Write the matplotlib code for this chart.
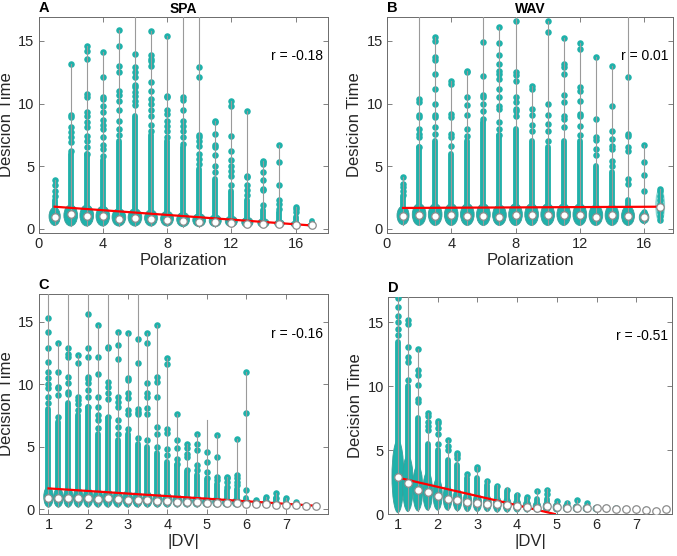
import matplotlib.pyplot as plt
from matplotlib.patches import Ellipse

plt.rcParams['font.family'] = ['Liberation Sans', 'DejaVu Sans']

TEAL = '#1fb1aa'
GRAY = '#9a9a9a'
TXT = '#262626'

# ---- panel A : SPA, polarization ----
A_pos = [1, 2, 3, 4, 5, 6, 7, 8, 9, 10, 11, 12, 13, 14, 15, 16, 17]
A_med = [0.9, 1.15, 1.0, 1.0, 0.8, 0.85, 0.75, 0.7, 0.6, 0.55, 0.5, 0.45, 0.4, 0.35, 0.35, 0.3, 0.25]
A_lo = [0.25, 0.2, 0.2, 0.2, 0.2, 0.2, 0.2, 0.2, 0.15, 0.15, 0.15, 0.15, 0.1, 0.1, 0.1, 0.1, 0.1]
A_hi = [1.7, 1.9, 1.9, 1.8, 1.6, 1.6, 1.5, 1.4, 1.3, 1.2, 1.1, 1.0, 0.9, 0.8, 0.7, 0.6, 0.45]
A_w = [0.7, 0.85, 0.85, 0.85, 0.85, 0.85, 0.8, 0.8, 0.8, 0.8, 0.75, 0.75, 0.7, 0.7, 0.6, 0.55, 0.5]
A_col = [2.3, 6.0, 6.0, 5.5, 7.0, 9.0, 7.5, 7.0, 6.5, 4.8, 4.0, 3.0, 2.3, 1.5, 1.3, 0.9, 0.6]
A_top = [3.9, 13.2, 14.6, 14.1, 15.9, 20, 15.8, 15.4, 20, 20, 8.6, 10.2, 9.4, 5.4, 6.7, 1.7, 0.6]
A_dots = [
    [2.6, 3.0, 3.5, 3.9],
    [6.2, 6.9, 7.3, 7.7, 8.1, 8.9, 9.1, 13.2],
    [6.0, 6.5, 7.0, 7.4, 8.1, 8.5, 9.0, 9.3, 10.5, 10.8, 13.6, 14.2, 14.6],
    [5.8, 6.4, 6.7, 7.3, 8.0, 8.3, 8.7, 9.3, 9.8, 10.4, 10.5, 12.1, 14.1],
    [7.5, 8.0, 8.6, 9.5, 10.2, 10.7, 11.0, 12.5, 13.0, 14.6, 15.9],
    [9.9, 10.2, 10.6, 10.9, 11.3, 11.5, 12.1, 12.5, 12.9, 14.0],
    [7.8, 8.3, 9.0, 9.5, 10.0, 10.4, 11.0, 11.7, 13.0, 13.4, 13.6, 13.9, 15.8],
    [7.3, 7.8, 8.2, 8.6, 9.2, 9.5, 10.5, 10.6, 15.4],
    [6.8, 7.3, 7.8, 8.2, 8.6, 9.5, 10.3, 10.5],
    [5.2, 5.6, 6.0, 6.6, 7.0, 7.3, 7.5, 12.1, 12.9],
    [4.5, 5.0, 5.9, 6.5, 6.7, 7.6, 8.5, 8.6],
    [3.5, 4.2, 4.6, 5.0, 5.5, 6.2, 7.4, 9.8, 10.2],
    [2.7, 3.1, 3.5, 4.1, 4.2, 9.4],
    [1.9, 3.1, 3.2, 3.9, 4.5, 5.2, 5.3, 5.4],
    [1.6, 2.0, 2.3, 3.5, 5.3, 6.7],
    [1.3, 1.6, 1.7],
    [],
]
A_fit = ([1, 17], [1.75, 0.25])

# ---- panel B : WAV, polarization ----
B_pos = [1, 2, 3, 4, 5, 6, 7, 8, 9, 10, 11, 12, 13, 14, 15, 16, 17]
B_med = [1.0, 1.1, 1.0, 1.1, 1.0, 1.0, 0.95, 1.05, 1.05, 1.05, 1.1, 1.1, 0.95, 1.05, 1.0, 0.95, 1.75]
B_lo = [0.3, 0.25, 0.25, 0.25, 0.25, 0.25, 0.25, 0.25, 0.25, 0.25, 0.25, 0.25, 0.25, 0.25, 0.25, 0.4, 0.5]
B_hi = [1.8, 2.0, 2.0, 2.0, 2.0, 2.0, 1.9, 2.0, 2.0, 2.0, 2.0, 2.0, 1.9, 1.9, 1.8, 1.4, 3.2]
B_w = [0.75, 0.85, 0.85, 0.85, 0.85, 0.85, 0.85, 0.85, 0.85, 0.85, 0.85, 0.85, 0.85, 0.85, 0.8, 0.6, 0.55]
B_col = [2.5, 6.5, 7.0, 6.0, 7.0, 8.5, 7.5, 8.0, 7.0, 6.5, 7.0, 7.0, 5.0, 4.5, 2.3, 1.3, 0]
B_top = [4.15, 20, 15.3, 11.8, 12.6, 20, 16.1, 20, 11.4, 16.6, 15.2, 14.8, 13.7, 13.0, 20, 6.7, 3.2]
B_dots = [
    [2.7, 3.0, 3.3, 3.6, 4.15],
    [6.5, 7.3, 7.6, 8.0, 8.9, 9.1, 10.1, 10.4],
    [7.6, 8.1, 8.9, 9.1, 10.0, 11.2, 12.4, 13.5, 13.7, 15.0, 15.3],
    [6.6, 7.3, 7.6, 8.9, 9.2, 11.6, 11.8],
    [7.4, 8.0, 9.1, 9.9, 10.5, 12.5, 12.6],
    [8.8, 9.4, 10.0, 10.5, 10.7, 12.2, 14.9],
    [7.5, 8.0, 8.5, 9.6, 9.8, 10.5, 11.2, 12.0, 12.4, 12.6, 13.2, 13.9, 14.8, 16.1],
    [9.0, 9.4, 9.6, 10.1, 10.5, 11.8, 12.3, 12.5, 16.6],
    [7.8, 8.3, 9.1, 9.6, 11.2, 11.4],
    [7.0, 7.8, 8.4, 9.1, 10.0, 15.7, 16.6],
    [8.1, 8.8, 9.0, 10.1, 10.7, 12.4, 12.9, 13.2, 15.2],
    [7.5, 8.2, 9.0, 9.2, 10.2, 11.0, 11.3, 14.4, 14.8],
    [5.9, 6.4, 7.1, 7.3, 8.8, 13.7],
    [5.0, 5.4, 6.4, 6.6, 7.2, 7.8, 9.8, 13.0],
    [3.6, 4.0, 6.2, 6.5, 7.4, 7.6, 12.1],
    [1.3, 3.0, 4.3, 5.3, 6.7],
    [0.7, 1.0, 1.3, 1.6, 2.0, 2.3, 2.6, 3.0, 3.2],
]
B_light = [17]
B_fit = ([1, 17], [1.65, 1.75])

# ---- panel C : |DV| (SPA) ----
C_pos = [1.0, 1.25, 1.5, 1.75, 2.0, 2.25, 2.5, 2.75, 3.0, 3.25, 3.5, 3.75, 4.0, 4.25,
         4.5, 4.75, 5.0, 5.25, 5.5, 5.75, 6.0, 6.25, 6.5, 6.75, 7.0, 7.25, 7.5, 7.75]
C_med = [0.85, 0.9, 0.9, 0.9, 0.9, 0.8, 0.85, 0.8, 0.75, 0.75, 0.7, 0.65, 0.65, 0.6,
         0.55, 0.55, 0.5, 0.5, 0.45, 0.45, 0.4, 0.4, 0.4, 0.35, 0.3, 0.3, 0.28, 0.25]
C_lo = [0.15] * 28
C_hi = [1.8, 1.7, 1.7, 1.7, 1.7, 1.6, 1.6, 1.5, 1.5, 1.4, 1.4, 1.3, 1.3, 1.2,
        1.1, 1.1, 1.0, 1.0, 0.9, 0.9, 0.8, 0.75, 0.75, 0.7, 0.6, 0.55, 0.5, 0.45]
C_w = [0.24, 0.24, 0.24, 0.24, 0.24, 0.24, 0.24, 0.24, 0.24, 0.24, 0.23, 0.23, 0.23, 0.22,
       0.22, 0.22, 0.22, 0.21, 0.21, 0.21, 0.2, 0.2, 0.2, 0.18, 0.12, 0.12, 0.1, 0.0]
C_col = [8.0, 7.0, 8.5, 7.5, 8.2, 6.0, 7.3, 5.5, 6.0, 5.2, 5.0, 4.5, 3.8, 3.5,
         3.0, 2.7, 2.3, 2.0, 1.5, 1.6, 0.9, 0.7, 0.8, 0.9, 0.7, 0.5, 0.4, 0.3]
C_top = [20, 13.3, 20, 12.3, 20, 14.7, 20, 14.2, 14.1, 20, 14.1, 14.7, 12.1, 7.6,
         5.2, 6.0, 7.1, 5.9, 2.6, 5.6, 11.0, 0.7, 1.0, 1.3, 0.9, 0.6, 0.5, 0.3]
C_dots = [
    [8.5, 9.0, 9.7, 10.0, 10.5, 11.0, 11.8, 12.9, 14.2, 15.3],
    [7.4, 9.1, 9.7, 9.8, 11.0, 13.3],
    [9.2, 9.4, 10.1, 10.6, 12.2, 12.4, 12.9],
    [7.9, 8.4, 8.7, 9.0, 11.7, 12.3],
    [8.2, 9.0, 9.5, 10.1, 10.4, 10.6, 12.2, 12.9, 15.6],
    [6.5, 7.1, 7.5, 8.2, 9.0, 10.8, 12.2, 14.7],
    [7.4, 8.8, 9.3, 9.8, 10.2, 12.9, 13.0],
    [6.0, 6.6, 7.1, 8.2, 8.6, 9.0, 12.0, 13.1, 14.2],
    [6.4, 7.6, 7.9, 8.9, 9.3, 10.3, 10.5, 14.1],
    [5.7, 7.6, 7.8, 8.0, 11.7, 13.6],
    [5.5, 7.6, 8.1, 9.0, 9.3, 10.1, 13.3, 14.1],
    [5.0, 6.0, 6.6, 9.0, 10.2, 10.6, 14.7],
    [4.3, 4.8, 6.1, 6.4, 11.6, 12.1],
    [3.6, 4.0, 4.9, 5.5, 7.6],
    [3.1, 4.2, 4.4, 4.9, 5.2],
    [3.1, 3.5, 4.7, 5.2, 6.0],
    [2.5, 3.0, 3.8, 4.6],
    [2.3, 2.6, 4.2, 5.9],
    [1.8, 2.2, 2.5, 2.6],
    [1.9, 2.2, 2.5, 2.7, 5.6],
    [1.5, 7.7, 11.0],
    [0.7],
    [1.0],
    [0.9, 1.3],
    [0.9],
    [0.6],
    [],
    [],
]
C_fit = ([1.0, 7.75], [1.65, 0.26])

# ---- panel D : |DV| (WAV) ----
D_pos = [1.0, 1.25, 1.5, 1.75, 2.0, 2.25, 2.5, 2.75, 3.0, 3.25, 3.5, 3.75, 4.0, 4.25,
         4.5, 4.75, 5.0, 5.25, 5.5, 5.75, 6.0, 6.25, 6.5, 6.75, 7.0, 7.25, 7.5, 7.75]
D_med = [2.9, 2.4, 1.9, 1.7, 1.4, 1.17, 1.07, 0.94, 0.86, 0.76, 0.76, 0.73, 0.65, 0.55,
         0.5, 0.6, 0.55, 0.47, 0.5, 0.44, 0.44, 0.44, 0.39, 0.36, 0.36, 0.34, 0.26, 0.39]
D_lo = [0.1, 0.2, 0.25, 0.3, 0.3, 0.3, 0.25, 0.2, 0.2, 0.2, 0.15, 0.15, 0.15, 0.15,
        0.15, 0.15, 0.15, 0.15, 0.15, 0.15, 0.15, 0.15, 0.15, 0.15, 0.15, 0.15, 0.15, 0.15]
D_hi = [5.8, 4.6, 3.8, 3.3, 2.8, 2.3, 2.0, 1.8, 1.6, 1.5, 1.4, 1.3, 1.2, 1.1,
        1.0, 1.0, 0.9, 0.85, 0.8, 0.75, 0.7, 0.7, 0.65, 0.6, 0.6, 0.55, 0.5, 0.55]
D_w = [0.3, 0.27, 0.25, 0.24, 0.23, 0.22, 0.22, 0.21, 0.21, 0.2, 0.2, 0.2, 0.19, 0.19,
       0.19, 0.19, 0.19, 0.18, 0.18, 0.18, 0.18, 0.17, 0.17, 0.17, 0.12, 0.12, 0.0, 0.0]
D_col = [13.5, 10.0, 7.5, 5.5, 5.0, 4.2, 3.8, 2.8, 2.8, 2.3, 2.0, 1.7, 1.4, 1.2,
         1.2, 1.2, 0.9, 0.8, 0.8, 0.7, 0.6, 0, 0, 0, 0, 0, 0, 0]
D_top = [20, 20, 12.9, 7.9, 7.3, 5.8, 4.8, 3.15, 3.7, 2.7, 2.3, 2.1, 1.65, 1.35,
         1.85, 1.95, 1.05, 1.0, 1.1, 0.86, 0.6, 0.5, 0.5, 0.4, 0.4, 0.4, 0.3, 0.4]
D_dots = [
    [14.0, 14.5, 15.0, 15.5, 16.2, 16.9],
    [10.5, 11.9, 12.3, 13.1, 14.9, 15.2],
    [8.8, 9.0, 10.1, 10.9, 11.3, 12.9],
    [6.6, 6.9, 7.2, 7.7, 7.9],
    [5.5, 6.3, 6.7, 7.1, 7.3],
    [5.0, 5.3, 5.8],
    [4.4, 4.6, 4.8],
    [3.15],
    [3.5, 3.7],
    [2.6],
    [2.2],
    [1.9],
    [1.5],
    [1.3],
    [1.8],
    [1.6, 1.9],
    [1.0],
    [0.9],
    [1.1],
    [0.85],
    [], [], [], [], [], [], [], [],
]
D_fit = ([1.0, 4.95], [2.85, 0.0])


def violinPanel(ax, pos, med, lo, hi, w, col, top, dots, fit, light=()):
    for i, x in enumerate(pos):
        mid = (lo[i] + hi[i]) / 2
        if x in light:
            ax.add_patch(Ellipse((x, mid), w[i], hi[i] - lo[i], facecolor=TEAL,
                                 alpha=0.4, edgecolor=TEAL, lw=0.8, zorder=2))
        elif w[i] > 0:
            ax.add_patch(Ellipse((x, mid), w[i], hi[i] - lo[i], facecolor=TEAL,
                                 edgecolor='#3a9e99', lw=0.6, zorder=2))
        if col[i] > hi[i]:
            ax.plot([x, x], [mid, col[i]], color=TEAL, lw=4.2,
                    solid_capstyle='round', zorder=2)
        if dots[i]:
            ax.scatter([x] * len(dots[i]), dots[i], s=22, color=TEAL,
                       linewidths=0, zorder=3)
        ax.plot([x, x], [lo[i], top[i]], color=GRAY, lw=0.8, zorder=4)
    ax.plot(fit[0], fit[1], color='red', lw=1.6, zorder=5)
    ax.plot(pos, med, 'o', ls='none', mfc='white', mec='#8c8c8c', ms=5.4,
            mew=0.9, zorder=6)


def styleAxes(ax):
    for s in ax.spines.values():
        s.set_color('#6b6b6b')
        s.set_linewidth(0.7)
    ax.tick_params(direction='in', top=True, right=True, length=3.5, width=0.6,
                   color='#6b6b6b', labelcolor=TXT, labelsize=10.5, pad=3)


fig = plt.figure(figsize=(6.77, 5.56), dpi=100)
axA = fig.add_axes([0.057, 0.581, 0.427, 0.388])
axB = fig.add_axes([0.5716, 0.581, 0.4225, 0.388])
axC = fig.add_axes([0.057, 0.0755, 0.427, 0.3955])
axD = fig.add_axes([0.5731, 0.0755, 0.4195, 0.3905])

violinPanel(axA, A_pos, A_med, A_lo, A_hi, A_w, A_col, A_top, A_dots, A_fit)
violinPanel(axB, B_pos, B_med, B_lo, B_hi, B_w, B_col, B_top, B_dots, B_fit, B_light)
violinPanel(axC, C_pos, C_med, C_lo, C_hi, C_w, C_col, C_top, C_dots, C_fit)
violinPanel(axD, D_pos, D_med, D_lo, D_hi, D_w, D_col, D_top, D_dots, D_fit)

for ax in (axA, axB):
    ax.set_xticks([0, 4, 8, 12, 16])
    ax.set_yticks([0, 5, 10, 15])
    ax.set_xlabel('Polarization', fontsize=12, color=TXT, labelpad=1)
    ax.set_ylabel('Desicion Time', fontsize=12, color=TXT, labelpad=3)
axA.set_xlim(0, 18)
axB.set_xlim(0, 17.8)
axA.set_ylim(-0.35, 16.9)
axB.set_ylim(-0.35, 16.9)

for ax in (axC, axD):
    ax.set_xticks([1, 2, 3, 4, 5, 6, 7])
    ax.set_yticks([0, 5, 10, 15])
    ax.set_xlabel('|DV|', fontsize=12, color=TXT, labelpad=1)
    ax.set_ylabel('Decision Time', fontsize=12, color=TXT, labelpad=3)
axC.set_xlim(0.75, 8.05)
axD.set_xlim(0.75, 7.9)
axC.set_ylim(-0.4, 17.2)
axD.set_ylim(0, 17)

for ax in (axA, axB, axC, axD):
    styleAxes(ax)

rvals = [(axA, 'r = -0.18'), (axB, 'r = 0.01'), (axC, 'r = -0.16'), (axD, 'r = -0.51')]
for ax, t in rvals:
    ax.text(0.985, 0.82, t, transform=ax.transAxes, ha='right', va='center',
            fontsize=10, color='black')

for ax, t in [(axA, 'A'), (axB, 'B'), (axC, 'C'), (axD, 'D')]:
    ax.text(0.0, 1.01, t, transform=ax.transAxes, ha='left', va='bottom',
            fontsize=10.5, fontweight='bold', color='black')
axA.set_title('SPA', fontsize=10, fontweight='bold', pad=3)
axB.set_title('WAV', fontsize=10, fontweight='bold', pad=3)

fig.savefig('out.png', dpi=100)
